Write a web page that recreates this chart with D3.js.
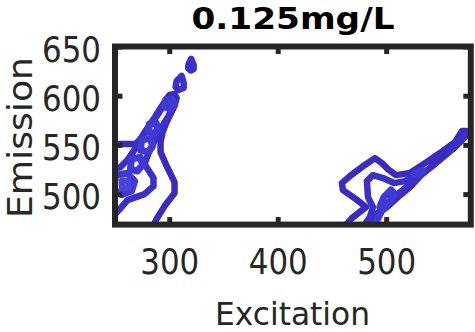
<!DOCTYPE html>
<html>
<head>
<meta charset="utf-8">
<script src="https://cdn.jsdelivr.net/npm/d3@7"></script>
<style>
  body { margin: 0; background: #fff; }
  svg { display: block; }
</style>
</head>
<body>
<script>
// Text of the chart
const titleText = "0.125mg/L";
const xLabelText = "Excitation";
const yLabelText = "Emission";
const xTicks = [300, 400, 500];
const yTicks = [500, 550, 600, 650];
const xDomain = [250, 578];
const yDomain = [469, 650];

// Contour lines, as [excitation, emission] pairs
// left peak (around ex 250-320)
const leftLevel1 = [[247.7,550.9],[268.9,550.9],[273.5,555.9],[278.2,564.1],[283.7,572.2],[289.2,580.3],[293.9,588.5],[296.6,595.6],[300.3,600.7],[304.9,601.7],[306.8,597.6],[304.9,589.5],[301.2,581.4],[297.6,573.2],[293.9,563.1],[292.0,552.9],[292.0,542.7],[297.6,528.5],[304.9,512.2],[304.9,501.0],[295.7,487.8],[288.3,474.6],[284.6,466.5]];
const leftLevel2 = [[247.7,476.6],[256.0,486.8],[261.5,493.9],[277.2,500.0],[285.5,508.1],[285.5,516.3],[277.2,530.5],[280.9,541.7],[285.5,551.9],[290.2,562.0],[294.8,571.2],[299.4,579.3],[302.2,587.5],[301.2,594.6],[296.6,594.6],[292.0,587.5],[287.4,579.3],[281.9,570.2],[277.2,562.0],[272.6,553.9],[267.1,543.7],[261.5,534.6],[255.1,527.5],[247.7,524.4]];
const topBlob1 = [[320.2,637.3],[322.5,631.2],[322.5,627.1],[319.7,625.6],[317.4,628.1],[317.9,632.2],[320.2,637.3]];
const topBlob2 = [[311.4,620.0],[313.3,612.9],[313.3,607.8],[308.6,605.8],[305.9,608.8],[306.8,614.9],[311.4,620.0]];
const leftLoopA = [[297.0,595.6],[302.8,596.6],[304.8,591.5],[301.6,586.5],[295.8,588.5],[297.0,595.6]];
const leftLoopB = [[281.8,571.2],[288.0,572.2],[289.3,566.1],[286.0,561.0],[280.9,563.1],[281.8,571.2]];
const leftLoopC = [[274.4,554.9],[282.6,556.9],[284.7,548.8],[280.5,542.7],[273.5,544.8],[274.4,554.9]];
const leftLoopD = [[265.2,535.6],[273.2,537.6],[275.5,529.5],[270.4,523.4],[264.2,525.5],[265.2,535.6]];
const leftLoopE = [[250.4,519.3],[261.2,521.3],[268.1,513.2],[265.3,503.1],[256.0,499.5],[249.5,504.1],[250.4,519.3]];
const leftLoopE2 = [[256.4,514.2],[262.0,513.2],[262.5,506.6],[256.4,506.1],[256.4,514.2]];

// right peak (around ex 460-575)
const rightLevel1 = [[461.0,466.5],[468.4,475.6],[481.3,486.8],[472.1,494.9],[460.1,504.1],[459.2,511.2],[466.5,518.3],[477.6,527.5],[489.6,536.6],[496.1,531.5],[501.6,525.4],[509.0,519.3],[522.0,521.4],[535.8,531.5],[549.6,541.7],[563.5,552.9],[570.0,564.1],[573.6,564.1],[573.6,559.0],[566.3,550.9],[557.0,541.7],[546.0,531.5],[533.1,520.3],[522.0,507.1],[510.9,497.0],[500.7,486.8],[490.5,478.7],[481.3,469.0],[478.5,466.5]];
const rightLevel2 = [[478.5,466.5],[485.0,476.6],[487.8,486.8],[483.2,496.9],[482.2,513.2],[487.8,519.3],[497.0,516.3],[507.2,511.2],[517.3,513.2],[527.5,519.3],[531.2,520.3],[525.7,513.2],[516.4,505.1],[506.2,495.9],[497.9,487.8],[491.5,479.7],[486.9,471.5],[485.0,466.5]];
const rightTip = [[558.9,544.8],[566.3,553.9],[570.9,560.0],[569.0,553.9],[561.6,545.8],[558.9,544.8]];
const rightLoop3 = [[494.2,486.8],[497.9,496.9],[504.4,504.1],[507.2,501.0],[503.5,491.9],[497.0,484.7],[494.2,486.8]];
const rightBlob3 = [[525.7,520.3],[530.3,523.4],[534.0,523.4],[529.4,519.3],[525.7,520.3]];
const rightBottom3 = [[495.2,481.7],[491.5,473.6],[489.6,466.5]];

const contourLines = [
    { level: 1, points: leftLevel1 },
    { level: 1, points: rightLevel1 },
    { level: 2, points: leftLevel2 },
    { level: 2, points: topBlob1 },
    { level: 2, points: topBlob2 },
    { level: 2, points: rightLevel2 },
    { level: 2, points: rightTip },
    { level: 3, points: leftLoopA },
    { level: 3, points: leftLoopB },
    { level: 3, points: leftLoopC },
    { level: 3, points: leftLoopD },
    { level: 3, points: leftLoopE },
    { level: 3, points: rightLoop3 },
    { level: 3, points: rightBlob3 },
    { level: 3, points: rightBottom3 },
    { level: 4, points: leftLoopE2 }
];

// SVG area and plot box
const svgWidth = 475;
const svgHeight = 332;
const box = { left: 115, right: 470.8, top: 46.5, bottom: 224.6 };
const ink = "#262626";

const svg = d3.select("body")
    .append("svg")
    .attr("width", svgWidth)
    .attr("height", svgHeight);

const xScale = d3.scaleLinear().domain(xDomain).range([box.left, box.right]);
const yScale = d3.scaleLinear().domain(yDomain).range([box.bottom, box.top]);

const levelColor = d3.scaleOrdinal()
    .domain([1, 2, 3, 4])
    .range(["#3a2cbf", "#3b30c7", "#4139d3", "#4646dd"]);
const levelWidth = d3.scaleOrdinal()
    .domain([1, 2, 3, 4])
    .range([6.5, 6.5, 7, 6]);

// clip the contours to the plot box
svg.append("clipPath")
    .attr("id", "plot-clip")
    .append("rect")
    .attr("x", box.left)
    .attr("y", box.top)
    .attr("width", box.right - box.left)
    .attr("height", box.bottom - box.top);

const line = d3.line()
    .x(d => xScale(d[0]))
    .y(d => yScale(d[1]));

svg.append("g")
    .attr("clip-path", "url(#plot-clip)")
    .selectAll("path")
    .data(contourLines)
    .enter()
    .append("path")
    .attr("d", d => line(d.points))
    .attr("fill", "none")
    .attr("stroke", d => levelColor(d.level))
    .attr("stroke-width", d => levelWidth(d.level))
    .attr("stroke-linejoin", "round")
    .attr("stroke-linecap", "round");

// axes, ticks pointing inward on all four sides
const tickLen = 7.5;

function styleAxis(g) {
    g.select(".domain").remove();
    g.selectAll(".tick line")
        .attr("stroke", ink)
        .attr("stroke-width", 5);
}

const xAxisBottom = svg.append("g")
    .attr("transform", `translate(0, ${box.bottom})`)
    .call(d3.axisBottom(xScale).tickValues(xTicks).tickSizeInner(-tickLen).tickSizeOuter(0))
    .call(styleAxis);

xAxisBottom.selectAll(".tick text")
    .attr("y", 274 - box.bottom)
    .attr("dy", null)
    .attr("fill", ink)
    .style("font-family", "'DejaVu Sans', sans-serif")
    .style("font-size", "36px")
    .attr("textLength", 59)
    .attr("lengthAdjust", "spacingAndGlyphs");

svg.append("g")
    .attr("transform", `translate(0, ${box.top})`)
    .call(d3.axisTop(xScale).tickValues(xTicks).tickSizeInner(-tickLen).tickSizeOuter(0).tickFormat(""))
    .call(styleAxis);

const yAxisLeft = svg.append("g")
    .attr("transform", `translate(${box.left}, 0)`)
    .call(d3.axisLeft(yScale).tickValues(yTicks).tickSizeInner(-tickLen).tickSizeOuter(0))
    .call(styleAxis);

yAxisLeft.selectAll(".tick text")
    .attr("x", 101 - box.left)
    .attr("y", 14.5)
    .attr("dy", null)
    .attr("fill", ink)
    .style("font-family", "'DejaVu Sans', sans-serif")
    .style("font-size", "36px")
    .attr("textLength", 59)
    .attr("lengthAdjust", "spacingAndGlyphs");

svg.append("g")
    .attr("transform", `translate(${box.right}, 0)`)
    .call(d3.axisRight(yScale).tickValues(yTicks).tickSizeInner(-tickLen).tickSizeOuter(0).tickFormat(""))
    .call(styleAxis);

// box around the plot
svg.append("rect")
    .attr("x", box.left)
    .attr("y", box.top)
    .attr("width", box.right - box.left)
    .attr("height", box.bottom - box.top)
    .attr("fill", "none")
    .attr("stroke", ink)
    .attr("stroke-width", 6);

// title and axis labels
svg.append("text")
    .attr("x", 293)
    .attr("y", 29)
    .attr("text-anchor", "middle")
    .attr("font-family", "'DejaVu Sans', sans-serif")
    .attr("font-weight", "bold")
    .attr("font-size", 30)
    .attr("textLength", 203)
    .attr("lengthAdjust", "spacingAndGlyphs")
    .attr("fill", "#000")
    .text(titleText);

svg.append("text")
    .attr("x", 292.5)
    .attr("y", 325)
    .attr("text-anchor", "middle")
    .attr("font-family", "'DejaVu Sans', sans-serif")
    .attr("font-size", 32)
    .attr("textLength", 155)
    .attr("lengthAdjust", "spacingAndGlyphs")
    .attr("fill", ink)
    .text(xLabelText);

svg.append("text")
    .attr("transform", "translate(32, 137.5) rotate(-90)")
    .attr("text-anchor", "middle")
    .attr("font-family", "'DejaVu Sans', sans-serif")
    .attr("font-size", 34)
    .attr("textLength", 161)
    .attr("lengthAdjust", "spacingAndGlyphs")
    .attr("fill", ink)
    .text(yLabelText);
</script>
</body>
</html>
